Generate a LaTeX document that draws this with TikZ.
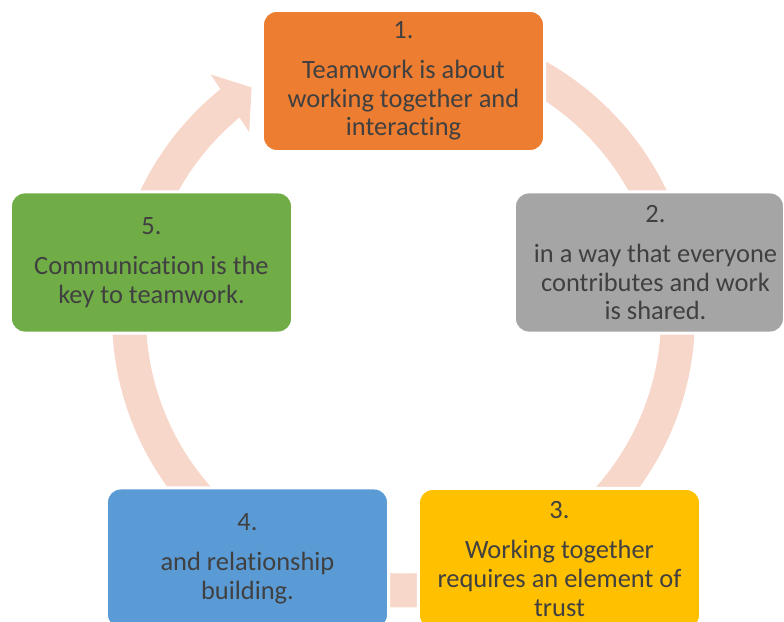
\documentclass[tikz,border=0pt]{standalone}
\usepackage{fontspec}
\setmainfont[Ligatures=NoCommon]{Carlito}
\usetikzlibrary{calc}
\definecolor{ringpink}{HTML}{F8D7CB}
\definecolor{boxorange}{HTML}{ED7D31}
\definecolor{boxgray}{HTML}{A5A5A5}
\definecolor{boxgold}{HTML}{FFC000}
\definecolor{boxblue}{HTML}{5B9BD5}
\definecolor{boxgreen}{HTML}{70AD47}
\definecolor{textgray}{HTML}{404040}
\begin{document}
\begin{tikzpicture}[x=0.025cm, y=0.025cm,
        stepbox/.style={rectangle, rounded corners=0.35cm, draw=white, line width=0.075cm,
            minimum width=7.05cm, minimum height=3.525cm, inner sep=0pt, align=center,
            text=textgray, font=\fontsize{18.8}{20.3}\selectfont},
        ring/.style={draw=ringpink, line width=0.85cm}]
    \useasboundingbox (0,0) rectangle (784,622);
    \coordinate (c) at (403.5,306);
    % the ring and its arrow head
    \draw[ring] (c) ++(90:274.5) arc[start angle=90, end angle=-231.4, radius=274.5];
    \fill[ringpink] ($(c)+(128.6:309)$) -- ($(c)+(123.6:274.5)$) -- ($(c)+(130:240)$) -- cycle;
    % the five steps
    \node[stepbox, fill=boxorange] (n1) at (403.5,541) {1.\\[8.2pt]Teamwork is about\\working together and\\interacting};
    \node[stepbox, fill=boxgray, minimum width=6.75cm] (n2) at (649.5,359.5) {\hspace*{0.3cm}2.\\[8.2pt]\hspace*{0.3cm}in a way that everyone\\\hspace*{0.3cm}contributes and work\\\hspace*{0.3cm}is shared.};
    \node[stepbox, fill=boxgold] (n3) at (559.5,63) {3.\\[8.2pt]Working together\\requires an element of\\trust};
    \node[stepbox, fill=boxblue] (n4) at (247.5,63.5) {4.\\[8.2pt]and relationship\\building.};
    \node[stepbox, fill=boxgreen] (n5) at (151.5,359.5) {5.\\[8.2pt]Communication is the\\key to teamwork.};
\end{tikzpicture}
\end{document}
